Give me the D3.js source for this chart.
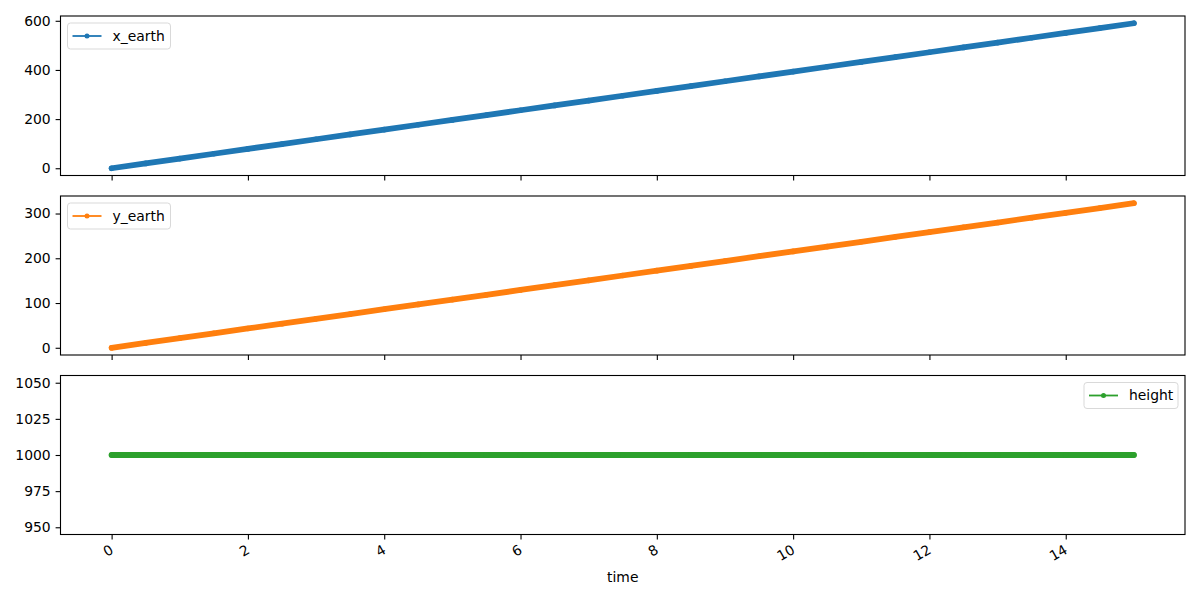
<!DOCTYPE html>
<html><head><meta charset="utf-8">
<script src="https://cdn.jsdelivr.net/npm/d3@7"></script>
<style>body{margin:0;background:#fff}svg{font-family:"DejaVu Sans",sans-serif}</style>
</head><body><svg id="c" width="1200" height="600"></svg>
<script>
const time = [0,0.5,1,1.5,2,2.5,3,3.5,4,4.5,5,5.5,6,6.5,7,7.5,8,8.5,9,9.5,10,10.5,11,11.5,12,12.5,13,13.5,14,14.5,15];
const x_earth = [0,19.7,39.3,59.0,78.7,98.3,118.0,137.7,157.3,177.0,196.7,216.3,236.0,255.7,275.3,295.0,314.7,334.3,354.0,373.7,393.3,413.0,432.7,452.3,472.0,491.7,511.3,531.0,550.7,570.3,590.0];
const y_earth = [0,10.8,21.5,32.3,43.1,53.8,64.6,75.4,86.1,96.9,107.7,118.4,129.2,140.0,150.7,161.5,172.3,183.0,193.8,204.6,215.3,226.1,236.9,247.6,258.4,269.2,279.9,290.7,301.5,312.2,323.0];
const height = [1000,1000,1000,1000,1000,1000,1000,1000,1000,1000,1000,1000,1000,1000,1000,1000,1000,1000,1000,1000,1000,1000,1000,1000,1000,1000,1000,1000,1000,1000,1000];
const xTicks = [0,2,4,6,8,10,12,14];
const yTicks1 = [0,200,400,600];
const yTicks2 = [0,100,200,300];
const yTicks3 = [950,975,1000,1025,1050];
const seriesNames = ["x_earth","y_earth","height"];
const colors = ["#1f77b4","#ff7f0e","#2ca02c"];

const svg = d3.select("#c");
const L = 60.5, R = 1185;
const x = d3.scaleLinear().domain([-0.75,15.75]).range([L,R]);
const panels = [
  {name:seriesNames[0], vals:x_earth, dom:[-29.5,619.5], ticks:yTicks1, top:16, bot:175.5, color:colors[0], legend:"left"},
  {name:seriesNames[1], vals:y_earth, dom:[-16.15,339.15], ticks:yTicks2, top:196, bot:355, color:colors[1], legend:"left"},
  {name:seriesNames[2], vals:height, dom:[945,1055], ticks:yTicks3, top:375.5, bot:534.5, color:colors[2], legend:"right"}
];
const fs = "13.9px";
panels.forEach((p,pi)=>{
  const y = d3.scaleLinear().domain(p.dom).range([p.bot,p.top]);
  const g = svg.append("g");
  const data = time.map((t,i)=>({t, v:p.vals[i]}));
  const line = d3.line().x(d=>x(d.t)).y(d=>y(d.v));
  g.append("path").datum(data).attr("d",line).attr("fill","none")
    .attr("stroke",p.color).attr("stroke-width",5.8).attr("stroke-linecap","round").attr("stroke-linejoin","round");
  g.selectAll("circle").data(data).join("circle").attr("cx",d=>x(d.t)).attr("cy",d=>y(d.v)).attr("r",2.8).attr("fill",p.color);
  const ya = g.append("g").attr("transform",`translate(${L},0)`).call(d3.axisLeft(y).tickValues(p.ticks).tickSize(4.9).tickPadding(4.9).tickFormat(d3.format("d")));
  ya.select(".domain").remove();
  ya.selectAll("line").attr("stroke","#000").attr("stroke-width",1.1);
  ya.selectAll("text").attr("font-size",fs).attr("fill","#000").attr("font-family","DejaVu Sans");
  const xa = g.append("g").attr("transform",`translate(0,${p.bot})`).call(d3.axisBottom(x).tickValues(xTicks).tickSize(4.9).tickFormat(pi===2? d3.format("d"):""));
  xa.select(".domain").remove();
  xa.selectAll("line").attr("stroke","#000").attr("stroke-width",1.1);
  if(pi===2){
    xa.selectAll("text").attr("font-size",fs).attr("fill","#000").attr("font-family","DejaVu Sans")
      .attr("text-anchor","end").attr("dy",null).attr("y",null)
      .attr("transform","translate(-3,9) rotate(-30)").attr("dominant-baseline","hanging");
  }
  g.append("rect").attr("x",L).attr("y",p.top).attr("width",R-L).attr("height",p.bot-p.top)
    .attr("fill","none").attr("stroke","#000").attr("stroke-width",1.1);
  const lw = p.legend==="left"? 103 : 94, lh = 26;
  const lx = p.legend==="left"? 67.5 : R-7-lw, ly = p.top+7;
  const lg = g.append("g").attr("transform",`translate(${lx},${ly})`);
  lg.append("rect").attr("width",lw).attr("height",lh).attr("rx",3).attr("fill","#fff").attr("fill-opacity",0.8)
    .attr("stroke","#d9d9d9").attr("stroke-width",1);
  lg.append("line").attr("x1",5).attr("x2",34).attr("y1",lh/2).attr("y2",lh/2).attr("stroke",p.color).attr("stroke-width",1.8);
  lg.append("circle").attr("cx",19.5).attr("cy",lh/2).attr("r",2.5).attr("fill",p.color);
  lg.append("text").attr("x",45).attr("y",lh/2).attr("dy","0.35em").attr("font-size",fs).attr("fill","#000").text(p.name);
});
svg.append("text").attr("x",(L+R)/2).attr("y",582).attr("text-anchor","middle").attr("font-size",fs).attr("fill","#000").text("time");
</script></body></html>
